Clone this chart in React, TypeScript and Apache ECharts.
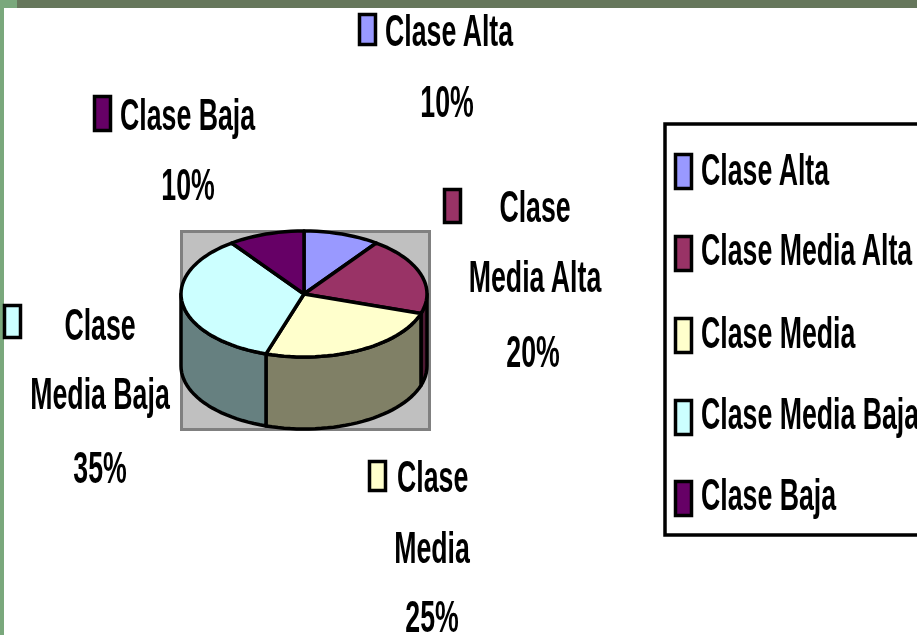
import React, { useEffect, useRef } from "react";
import * as echarts from "echarts";

const categories = ["Clase Alta", "Clase Media Alta", "Clase Media", "Clase Media Baja", "Clase Baja"];
const values = [10, 20, 25, 35, 10];
const topColors = ["#9999FF", "#993366", "#FFFFCC", "#CCFFFF", "#660066"];
const sideColors = ["#4D4D80", "#4D1A33", "#808066", "#668080", "#330033"];
const labelLines = [
  ["Clase Alta", "10%"],
  ["Clase", "Media Alta", "20%"],
  ["Clase", "Media", "25%"],
  ["Clase", "Media Baja", "35%"],
  ["Clase Baja", "10%"],
];

// layout of the data labels: swatch [x, y, w, h], then per line [x, y, align]
const labelLayout: { box: number[]; lines: [number, number, string][] }[] = [
  { box: [358, 13, 19, 33], lines: [[385, 31, "left"], [447, 102, "center"]] },
  { box: [443, 188, 19, 36], lines: [[535, 207, "center"], [535, 277, "center"], [533, 352, "center"]] },
  { box: [368, 460, 19, 32], lines: [[397, 477, "left"], [432, 548, "center"], [432, 617, "center"]] },
  { box: [3, 304, 19, 35], lines: [[100, 325, "center"], [100, 394, "center"], [100, 468, "center"]] },
  { box: [93, 95, 19, 37], lines: [[120, 115, "left"], [188, 185, "center"]] },
];
const legendBoxRows = [171, 253, 335, 417, 498];
const legendTextRows = [170, 250, 333, 414, 495];

const CX = 304;
const CY = 294;
const RX = 123;
const RY = 63;
const DEPTH = 72;
const TOTAL = values.reduce((a, b) => a + b, 0);

const pt = (deg: number, dy = 0) => {
  const r = (deg * Math.PI) / 180;
  return [CX + RX * Math.sin(r), CY - RY * Math.cos(r) + dy];
};
const range = (i: number) => {
  const before = values.slice(0, i).reduce((a, b) => a + b, 0);
  return [(before / TOTAL) * 360, ((before + values[i]) / TOTAL) * 360];
};
const arc = (a: number, b: number, dy = 0) => {
  const out: number[][] = [];
  const n = Math.max(2, Math.ceil(Math.abs(b - a) / 3));
  for (let k = 0; k <= n; k++) out.push(pt(a + ((b - a) * k) / n, dy));
  return out;
};

const TEXT_FONT = 'bold 26.7px "Liberation Sans", Arial, sans-serif';
const textEl = (text: string, x: number, y: number, align: string) => ({
  type: "text",
  x,
  y,
  scaleY: 1.68,
  style: { text, font: TEXT_FONT, fill: "#000", textAlign: align, textVerticalAlign: "middle" },
});
const swatch = (x: number, y: number, w: number, h: number, fill: string) => ({
  type: "rect",
  shape: { x: x + 1.5, y: y + 1.5, width: w - 3, height: h - 3 },
  style: { fill, stroke: "#000", lineWidth: 3.5 },
});

export default function App() {
  const ref = useRef<HTMLDivElement>(null);
  useEffect(() => {
    const chart = echarts.init(ref.current!, null, { renderer: "svg" });
    const graphics: any[] = [
      { type: "rect", shape: { x: 0, y: 0, width: 917, height: 8 }, style: { fill: "#66775C" } },
      { type: "rect", shape: { x: 0, y: 0, width: 17, height: 8 }, style: { fill: "#7AA87C" } },
      { type: "rect", shape: { x: 0, y: 0, width: 4, height: 635 }, style: { fill: "#7AA87C" } },
      {
        type: "rect",
        shape: { x: 181.5, y: 231.5, width: 248, height: 198 },
        style: { fill: "#C0C0C0", stroke: "#808080", lineWidth: 3 },
      },
      {
        type: "rect",
        shape: { x: 665, y: 124, width: 270, height: 411 },
        style: { fill: "#fff", stroke: "#000", lineWidth: 3.5 },
      },
    ];
    categories.forEach((name, i) => {
      graphics.push(swatch(674, legendBoxRows[i] - 18, 19, 37, topColors[i]));
      graphics.push(textEl(name, 701, legendTextRows[i], "left"));
      const l = labelLayout[i];
      graphics.push(swatch(l.box[0], l.box[1], l.box[2], l.box[3], topColors[i]));
      labelLines[i].forEach((t, k) => graphics.push(textEl(t, l.lines[k][0], l.lines[k][1], l.lines[k][2])));
    });

    chart.setOption({
      animation: false,
      backgroundColor: "#fff",
      graphic: graphics,
      series: [
        {
          type: "custom",
          coordinateSystem: "none",
          silent: true,
          z: 2,
          data: values,
          renderItem: (p: any) => {
            const [a, b] = range(p.dataIndex);
            const s = Math.max(a, 90);
            const e = Math.min(b, 270);
            if (e <= s) return { type: "group", children: [] };
            return {
              type: "polygon",
              shape: { points: [...arc(s, e), ...arc(e, s, DEPTH)] },
              style: { fill: sideColors[p.dataIndex], stroke: "#000", lineWidth: 3.5, lineJoin: "round" },
            };
          },
        },
        {
          type: "custom",
          coordinateSystem: "none",
          silent: true,
          z: 3,
          data: values,
          renderItem: (p: any) => {
            const [a, b] = range(p.dataIndex);
            return {
              type: "polygon",
              shape: { points: [[CX, CY], ...arc(a, b)] },
              style: { fill: topColors[p.dataIndex], stroke: "#000", lineWidth: 3.5, lineJoin: "round" },
            };
          },
        },
      ],
    });
    return () => chart.dispose();
  }, []);
  return (
    <div
      ref={ref}
      style={{ position: "fixed", left: 0, top: 0, width: 917, height: 635, filter: "blur(0.7px)" }}
    />
  );
}
